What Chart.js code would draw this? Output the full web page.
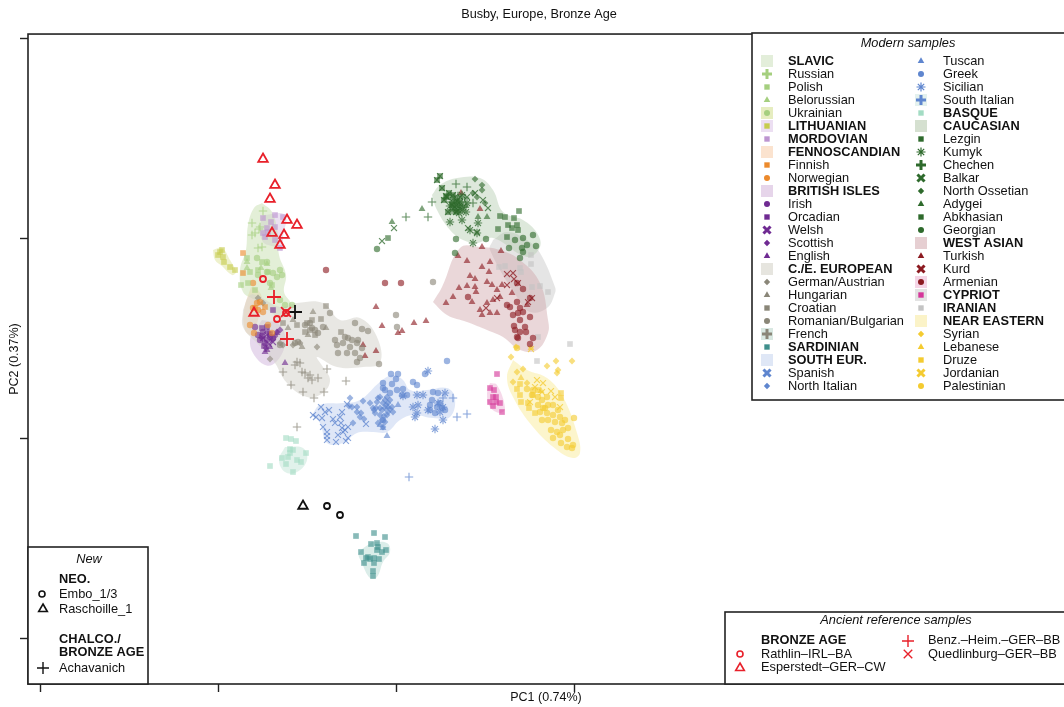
<!DOCTYPE html>
<html>
<head>
<meta charset="utf-8">
<title>Busby, Europe, Bronze Age</title>
<script src="https://cdn.jsdelivr.net/npm/chart.js@4"></script>
<style>
  html, body { margin: 0; padding: 0; background: #fff; overflow: hidden; }
  canvas { display: block; }
</style>
</head>
<body>
<canvas id="grafico" width="1064" height="707"></canvas>
<script>
// Ticks de los ejes (sin etiquetas en el original, unidades relativas)
const xTicks = [-356, -178, 0, 178];
const yTicks = [400, 200, 0, -200];

// Muestras modernas: pares [PC1, PC2]
const russian = [[-133,227],[-144,215],[-136,211],[-137,209],[-144,203],[-141,205],[-138,190],[-134,191]];
const polish = [[-149,180],[-146,166],[-155,153],[-148,155],[-134,176],[-128,166],[-141,148],[-124,153],[-138,168]];
const belorussian = [[-149,170],[-149,176],[-129,174],[-135,170],[-125,150]];
const ukrainian = [[-129,166],[-123,165],[-116,168],[-114,163],[-119,161],[-126,155],[-116,138],[-111,133],[-104,133],[-138,163],[-129,176],[-139,180]];
const lithuanian = [[-174,188],[-178,183],[-173,181],[-172,176],[-166,171],[-161,168],[-176,186]];
const mordovian = [[-121,223],[-113,221],[-133,220],[-125,216],[-129,210],[-121,211],[-131,201],[-121,198],[-116,190],[-128,206],[-133,205]];
const finnish = [[-153,185],[-153,165],[-141,130],[-131,131]];
const norwegian = [[-143,155],[-139,135],[-143,130],[-136,136],[-146,113],[-142,105],[-124,105],[-133,126],[-138,128],[-128,113]];
const irish = [[-133,106],[-126,101],[-136,98],[-131,95],[-123,100],[-138,103],[-141,111],[-129,98],[-134,102]];
const orcadian = [[-123,128],[-134,110],[-129,111],[-126,104],[-132,92]];
const welsh = [[-129,103],[-123,96],[-133,100],[-127,94]];
const scottish = [[-128,106],[-119,106],[-124,98],[-134,100],[-116,108],[-130,90],[-121,102]];
const english = [[-129,88],[-126,91],[-131,86],[-111,75],[-119,105]];
const germanAustrian = [[-126,79],[-79,91],[-113,93],[-103,93],[-96,95],[-116,95],[-133,135],[-138,140]];
const hungarian = [[-83,126],[-103,118],[-94,91],[-108,110],[-70,110],[-88,103]];
const croatian = [[-70,132],[-75,119],[-84,118],[-89,115],[-91,106],[-86,108],[-81,103],[-55,106],[-99,113],[-113,115]];
const romanianBulgarian = [[-66,125],[-41,115],[-34,109],[-28,107],[-61,98],[-59,93],[-51,101],[-48,100],[-44,98],[-38,98],[-53,95],[-46,91],[-39,95],[-34,90],[-49,85],[-41,85],[-36,80],[-39,76],[-17,74],[-58,85],[-81,108],[-78,105],[-101,95],[-98,96],[-116,93],[-84,110],[-91,113],[-86,115],[-73,111],[0,123],[1,111],[37,156]];
const french = [[-69,69],[-50,57],[-99,76],[-101,73],[-96,75],[-113,66],[-94,66],[-91,65],[-86,63],[-88,60],[-78,60],[-105,53],[-93,46],[-72,46],[-82,40],[-84,58],[-99,11]];
const sardinian = [[-40,-98],[-22,-95],[-11,-99],[-25,-106],[-19,-105],[-18,-109],[-10,-112],[-35,-114],[-14,-114],[-30,-120],[-26,-121],[-22,-120],[-17,-121],[-32,-125],[-22,-125],[-23,-133],[-23,-138],[-19,-112],[-28,-119]];
const spanish = [[-75,31],[-83,23],[-80,21],[-74,20],[-71,26],[-67,28],[-63,19],[-54,26],[-56,21],[-61,15],[-49,34],[-73,11],[-69,6],[-69,2],[-69,-2],[-60,-4],[-58,3],[-54,10],[-51,8],[-48,11],[-48,0],[-50,-3],[-30,14],[-53,6],[-55,15]];
const northItalian = [[-46,40],[-33,37],[-44,31],[-39,31],[-39,26],[-35,25],[-36,21],[-43,15],[-32,19],[-47,32],[-16,41],[-19,36],[-26,35],[-23,30],[-13,35],[-8,35],[-16,30],[-11,30],[-4,31],[-21,25],[-16,23],[-9,23],[-14,18],[-11,16],[-18,15],[-13,11],[-9,41],[-6,38],[-11,38],[-8,26],[-3,26],[-20,30],[-14,28],[-10,33],[-6,29],[-12,22],[-18,40],[-22,28]];
const tuscan = [[-9,2],[2,33],[-13,10],[-8,31],[-16,13]];
const greek = [[-5,64],[2,64],[0,59],[-13,55],[-4,54],[-13,50],[17,56],[21,53],[7,49],[1,48],[11,43],[6,43],[37,46],[42,45],[36,38],[34,33],[41,31],[46,30],[39,25],[-6,45],[29,64],[51,77],[-13,18],[-11,48],[34,28],[44,35],[49,28]];
const sicilian = [[32,67],[7,42],[21,43],[27,43],[17,31],[22,33],[19,21],[32,28],[39,9],[42,35],[47,31],[44,26],[49,45],[47,18],[21,25]];
const southItalian = [[57,40],[61,21],[71,24],[13,-39],[47,40]];
const basque = [[-110,0],[-105,-1],[-100,-3],[-106,-11],[-103,-12],[-90,-15],[-114,-20],[-108,-19],[-99,-22],[-95,-24],[-110,-26],[-103,-34],[-126,-28],[-106,-15]];
const lezgin = [[44,262],[41,258],[53,245],[52,226],[51,241],[57,243],[46,250],[60,226],[50,242],[48,238],[56,233],[61,237]];
const kumyk = [[54,216],[66,218],[77,195],[81,205],[74,208],[82,215],[59,231],[64,236],[67,231],[62,228],[57,236],[71,235],[66,243],[60,233],[63,232],[66,228],[56,228],[58,240],[70,226],[54,232],[63,225]];
const chechen = [[60,254],[71,251],[36,236],[10,221],[32,221],[64,233],[61,238],[69,240],[77,235],[59,228],[55,236],[66,236],[62,242]];
const balkar = [[-2,210],[-14,197],[92,230],[87,238],[79,245],[72,210],[81,206],[64,241],[71,241]];
const northOssetian = [[79,259],[86,253],[86,248],[81,241],[89,235],[77,245]];
const adygei = [[26,229],[-4,216],[91,221],[82,221],[70,232]];
const abkhasian = [[-8,200],[104,222],[109,221],[123,227],[118,220],[112,213],[102,209],[111,201],[121,213],[116,210],[122,208]];
const georgian = [[-19,189],[60,199],[90,199],[59,185],[119,198],[127,200],[137,203],[140,192],[131,193],[126,190],[113,190],[124,180],[127,186]];
const turkish = [[50,135],[63,150],[57,141],[71,152],[79,151],[80,146],[76,136],[84,128],[86,123],[91,135],[91,156],[96,153],[101,148],[101,125],[97,138],[104,141],[94,125],[74,162],[79,159],[93,166],[106,153],[116,145],[131,133],[-20,131],[-14,112],[6,107],[2,105],[18,115],[30,117],[86,191],[105,187],[62,182],[71,177],[84,229],[65,245],[94,176],[86,171],[-33,93],[-20,87],[-31,82]];
const kurd = [[111,164],[117,165],[118,159],[122,155],[132,136],[136,140],[111,153],[101,140],[90,130]];
const armenian = [[72,141],[121,155],[127,149],[134,140],[111,133],[114,131],[121,136],[124,130],[117,123],[122,125],[127,126],[134,121],[124,118],[118,112],[119,108],[124,106],[129,111],[130,106],[121,101],[137,100],[134,94],[122,100],[-11,155],[5,155],[-70,168]];
const cypriot = [[101,64],[94,50],[98,48],[97,41],[100,41],[94,36],[100,36],[97,32],[104,35],[106,26]];
const iranian = [[136,151],[144,152],[152,146],[125,166],[142,101],[141,77],[174,94],[103,171],[109,172],[124,170],[135,174],[135,183]];
const syrian = [[115,81],[151,72],[160,77],[176,77],[162,68],[161,65],[121,66],[127,69],[117,56],[131,55],[120,91]];
const lebanese = [[135,90],[145,47],[125,60]];
const druze = [[124,54],[121,49],[124,43],[125,36],[132,35],[133,30],[139,25],[165,45],[165,40],[137,43],[142,48]];
const jordanian = [[141,58],[147,55],[155,47],[159,41],[146,46],[139,51],[134,36],[164,31],[135,89]];
const palestinian = [[131,49],[137,48],[136,43],[142,41],[146,38],[151,41],[142,33],[147,30],[152,33],[157,33],[162,28],[144,26],[151,25],[157,23],[164,21],[146,18],[152,18],[159,16],[166,15],[169,18],[178,20],[172,10],[155,8],[161,6],[167,8],[157,0],[165,-5],[172,-1],[171,-9],[177,-7],[176,-10],[164,3],[149,30],[121,90]];

// Muestras antiguas y nuevas
const rathlin = [[-133,159],[-119,119],[-110,125]];
const esperstedt = [[-133,279],[-121,253],[-126,239],[-109,218],[-99,213],[-124,205],[-112,203],[-116,193],[-142,125]];
const benzHeim = [[-122,141],[-109,99]];
const quedlinburg = [[-110,126]];
const embo = [[-69,-68],[-56,-77]];
const raschoille = [[-93,-68]];
const achavanich = [[-101,126]];

// Contornos de los grupos
const hullSlavic = [[-134,235],[-124,226],[-118,203],[-117,183],[-110,163],[-112,146],[-105,133],[-114,120],[-128,128],[-141,138],[-153,146],[-156,168],[-150,188],[-148,213],[-142,230]];
const hullLithuanian = [[-183,188],[-174,190],[-166,178],[-160,166],[-164,163],[-174,172],[-181,178]];
const hullMordovian = [[-133,223],[-111,223],[-113,201],[-114,188],[-121,191],[-133,196],[-136,211]];
const hullFennoscandian = [[-145,151],[-138,148],[-134,138],[-138,118],[-144,103],[-151,108],[-152,128]];
const hullBritish = [[-134,118],[-116,113],[-111,93],[-124,73],[-138,78],[-146,98]];
const hullCentral = [[-153,128],[-146,143],[-136,141],[-116,131],[-99,135],[-73,135],[-56,118],[-36,120],[-19,101],[-16,75],[-33,71],[-59,71],[-79,81],[-73,71],[-66,58],[-73,45],[-89,41],[-109,55],[-123,78],[-139,95],[-153,111]];
const hullSouth = [[-84,23],[-76,33],[-53,35],[-36,38],[-16,56],[-3,63],[7,58],[14,48],[31,48],[51,50],[59,40],[54,21],[37,20],[17,23],[4,18],[-9,6],[-23,6],[-39,5],[-53,-5],[-69,-5],[-76,15]];
const hullBasque = [[-111,-9],[-93,-10],[-89,-22],[-99,-34],[-111,-34],[-117,-22]];
const hullSardinian = [[-24,-104],[-9,-105],[-6,-114],[-13,-124],[-19,-139],[-26,-140],[-34,-125],[-37,-115]];
const hullCaucasian = [[36,243],[44,253],[61,260],[84,260],[97,248],[107,226],[127,218],[141,205],[144,191],[131,181],[97,200],[81,195],[67,198],[54,208],[41,228]];
const hullWestAsian = [[37,136],[46,151],[64,190],[84,191],[104,188],[124,178],[144,155],[152,118],[152,105],[141,88],[124,88],[107,101],[91,108],[71,116],[51,123]];
const hullIranian = [[97,198],[111,206],[131,198],[144,185],[159,151],[159,145],[151,130],[134,126],[121,141],[94,188]];
const hullNearEastern = [[117,78],[131,68],[151,60],[167,41],[181,5],[184,-15],[177,-20],[161,-12],[137,11],[117,41],[111,61]];
const hullCypriot = [[94,55],[101,53],[109,30],[104,25],[94,31],[91,45]];

// Colores
const cVerde = '#a5cf7f', cLima = '#c6cc4e', cLila = '#bd95d0', cNaranja = '#ec8a2c', cMorado = '#6f2a92';
const cGris = '#8a8678', cTeal = '#3f8f8c', cAzul = '#5f86cf', cMenta = '#a3dcc4', cBosque = '#2e6a2c';
const cGuinda = '#8c1a20', cRosa = '#d5379a', cPlata = '#c4c4c4', cAmarillo = '#f4cb30';

// contorno, color
const contornos = [
    [hullCentral, 'rgba(214,212,204,0.55)'],
    [hullSlavic, 'rgba(200,224,175,0.5)'],
    [hullLithuanian, 'rgba(226,232,170,0.6)'],
    [hullMordovian, 'rgba(222,205,234,0.6)'],
    [hullFennoscandian, 'rgba(248,208,165,0.5)'],
    [hullBritish, 'rgba(212,185,222,0.55)'],
    [hullSouth, 'rgba(196,212,240,0.55)'],
    [hullBasque, 'rgba(200,232,218,0.55)'],
    [hullSardinian, 'rgba(190,222,215,0.55)'],
    [hullCaucasian, 'rgba(180,205,175,0.45)'],
    [hullWestAsian, 'rgba(205,160,165,0.42)'],
    [hullIranian, 'rgba(190,190,190,0.4)'],
    [hullNearEastern, 'rgba(250,238,170,0.6)'],
    [hullCypriot, 'rgba(240,190,220,0.6)']
];

// puntos, estilo, color
const poblaciones = [
    [russian, 'cross', cVerde], [polish, 'rect', cVerde], [belorussian, 'triangle', cVerde], [ukrainian, 'circle', cVerde],
    [lithuanian, 'rect', cLima], [mordovian, 'rect', cLila], [finnish, 'rect', cNaranja], [norwegian, 'circle', cNaranja],
    [germanAustrian, 'rectRot', cGris], [hungarian, 'triangle', cGris], [croatian, 'rect', cGris], [romanianBulgarian, 'circle', cGris], [french, 'cross', cGris],
    [irish, 'circle', cMorado], [orcadian, 'rect', cMorado], [welsh, 'crossRot', cMorado], [scottish, 'rectRot', cMorado], [english, 'triangle', cMorado],
    [sardinian, 'rect', cTeal], [spanish, 'crossRot', cAzul], [northItalian, 'rectRot', cAzul], [tuscan, 'triangle', cAzul],
    [greek, 'circle', cAzul], [sicilian, 'star', cAzul], [southItalian, 'cross', cAzul], [basque, 'rect', cMenta],
    [lezgin, 'rect', cBosque], [lezgin, 'crossRot', cBosque], [kumyk, 'star', cBosque], [chechen, 'cross', cBosque], [balkar, 'crossRot', cBosque],
    [northOssetian, 'rectRot', cBosque], [adygei, 'triangle', cBosque], [abkhasian, 'rect', cBosque], [georgian, 'circle', cBosque],
    [turkish, 'triangle', cGuinda], [kurd, 'crossRot', cGuinda], [armenian, 'circle', cGuinda], [cypriot, 'rect', cRosa], [iranian, 'rect', cPlata],
    [syrian, 'rectRot', cAmarillo], [lebanese, 'triangle', cAmarillo], [druze, 'rect', cAmarillo], [jordanian, 'crossRot', cAmarillo], [palestinian, 'circle', cAmarillo]
];

const rojo = '#e8202a', negro = '#111111';
const antiguas = [
    [rathlin, 'circle', rojo], [esperstedt, 'triangle', rojo], [benzHeim, 'cross', rojo], [quedlinburg, 'crossRot', rojo],
    [embo, 'circle', negro], [raschoille, 'triangle', negro], [achavanich, 'cross', negro]
];

// Texto de las leyendas: etiqueta, negrita, parche, estilo, color
const leyendaIzq = [
    ['SLAVIC', 1, '#e3eeda'], ['Russian', 0, null, 'crossBold', cVerde], ['Polish', 0, null, 'rect', cVerde], ['Belorussian', 0, null, 'triangle', cVerde],
    ['Ukrainian', 0, '#e6edc0', 'circle', cVerde], ['LITHUANIAN', 1, '#ecdff2', 'rect', cLima], ['MORDOVIAN', 1, null, 'rect', cLila],
    ['FENNOSCANDIAN', 1, '#fbe3cf'], ['Finnish', 0, null, 'rect', cNaranja], ['Norwegian', 0, null, 'circle', cNaranja],
    ['BRITISH ISLES', 1, '#e6d5ea'], ['Irish', 0, null, 'circle', cMorado], ['Orcadian', 0, null, 'rect', cMorado], ['Welsh', 0, null, 'crossBold2', cMorado],
    ['Scottish', 0, null, 'rectRot', cMorado], ['English', 0, null, 'triangle', cMorado], ['C./E. EUROPEAN', 1, '#e6e5df'],
    ['German/Austrian', 0, null, 'rectRot', cGris], ['Hungarian', 0, null, 'triangle', cGris], ['Croatian', 0, null, 'rect', cGris],
    ['Romanian/Bulgarian', 0, null, 'circle', cGris], ['French', 0, '#d9e8e2', 'crossBold', cGris], ['SARDINIAN', 1, null, 'rect', cTeal],
    ['SOUTH EUR.', 1, '#dfe7f6'], ['Spanish', 0, null, 'crossBold2', cAzul], ['North Italian', 0, null, 'rectRot', cAzul]
];
const leyendaDer = [
    ['Tuscan', 0, null, 'triangle', cAzul], ['Greek', 0, null, 'circle', cAzul], ['Sicilian', 0, null, 'star', cAzul], ['South Italian', 0, '#e4f1ee', 'crossBold', cAzul],
    ['BASQUE', 1, null, 'rect', cMenta], ['CAUCASIAN', 1, '#d5e0d0'], ['Lezgin', 0, null, 'rect', cBosque], ['Kumyk', 0, null, 'star', cBosque],
    ['Chechen', 0, null, 'crossBold', cBosque], ['Balkar', 0, null, 'crossBold2', cBosque], ['North Ossetian', 0, null, 'rectRot', cBosque],
    ['Adygei', 0, null, 'triangle', cBosque], ['Abkhasian', 0, null, 'rect', cBosque], ['Georgian', 0, null, 'circle', cBosque], ['WEST ASIAN', 1, '#e6cfd2'],
    ['Turkish', 0, null, 'triangle', cGuinda], ['Kurd', 0, null, 'crossBold2', cGuinda], ['Armenian', 0, '#f5d5e6', 'circle', cGuinda],
    ['CYPRIOT', 1, '#e3e3e3', 'rect', cRosa], ['IRANIAN', 1, null, 'rect', cPlata], ['NEAR EASTERN', 1, '#fbf3c8'], ['Syrian', 0, null, 'rectRot', cAmarillo],
    ['Lebanese', 0, null, 'triangle', cAmarillo], ['Druze', 0, null, 'rect', cAmarillo], ['Jordanian', 0, null, 'crossBold2', cAmarillo], ['Palestinian', 0, null, 'circle', cAmarillo]
];

const fuente = '"Liberation Sans", Arial, sans-serif';

function marcador(ctx, estilo, color, x, y) {
    let tipo = estilo, ancho = 0, radio = 3.8;
    if (estilo === 'crossBold') { tipo = 'cross'; ancho = 3; radio = 5; }
    if (estilo === 'crossBold2') { tipo = 'crossRot'; ancho = 3; radio = 5; }
    if (estilo === 'star') { ancho = 1.2; radio = 4.5; }
    if (estilo === 'rectRot') { radio = 3.2; }
    if (estilo === 'circle') { radio = 3; }
    ctx.fillStyle = color;
    ctx.strokeStyle = color;
    ctx.lineWidth = ancho;
    Chart.helpers.drawPoint(ctx, { pointStyle: tipo, radius: radio, borderWidth: ancho, rotation: 0 }, x, y);
}

function marcadorHueco(ctx, estilo, color, x, y, radio, ancho) {
    ctx.fillStyle = 'rgba(0,0,0,0)';
    ctx.strokeStyle = color;
    ctx.lineWidth = ancho;
    Chart.helpers.drawPoint(ctx, { pointStyle: estilo, radius: radio, borderWidth: ancho, rotation: 0 }, x, y);
}

function texto(ctx, cadena, x, y, estilo, align) {
    ctx.font = estilo + ' 12.8px ' + fuente;
    ctx.fillStyle = '#111';
    ctx.textAlign = align || 'left';
    ctx.textBaseline = 'middle';
    ctx.fillText(cadena, x, y);
}

function caja(ctx, x, y, w, h) {
    ctx.fillStyle = '#fff';
    ctx.fillRect(x, y, w, h);
    ctx.strokeStyle = '#222';
    ctx.lineWidth = 1.6;
    ctx.strokeRect(x, y, w, h);
}

function columna(ctx, filas, xMarca, xTexto, y0, paso) {
    filas.forEach((fila, i) => {
        const y = y0 + i * paso;
        if (fila[2]) {
            ctx.fillStyle = fila[2];
            ctx.fillRect(xMarca - 6, y - 6, 12, 12);
        }
        if (fila[3]) marcador(ctx, fila[3], fila[4], xMarca, y);
        texto(ctx, fila[0], xTexto, y, fila[1] ? 'bold' : 'normal');
    });
}

// Marco y leyendas dibujados encima de los puntos
const pluginLeyendas = {
    id: 'leyendas',
    afterLayout(chart) {
        // el título va algo a la izquierda del centro del área
        chart.titleBlock.right = 1078;
    },
    afterDraw(chart) {
        const ctx = chart.ctx;
        const a = chart.chartArea;
        ctx.save();
        ctx.strokeStyle = '#222';
        ctx.lineWidth = 1.6;
        ctx.strokeRect(a.left, a.top, a.right - a.left + 40, a.bottom - a.top);

        // Modern samples
        caja(ctx, 752, 33, 330, 367);
        texto(ctx, 'Modern samples', 908, 43, 'italic', 'center');
        columna(ctx, leyendaIzq, 767, 788, 61, 13);
        columna(ctx, leyendaDer, 921, 943, 61, 13);

        // New
        caja(ctx, 28, 547, 120, 137);
        texto(ctx, 'New', 89, 559, 'italic', 'center');
        texto(ctx, 'NEO.', 59, 579, 'bold');
        marcadorHueco(ctx, 'circle', negro, 42, 594, 3, 1.6);
        texto(ctx, 'Embo_1/3', 59, 594, 'normal');
        marcadorHueco(ctx, 'triangle', negro, 43, 609, 5, 1.6);
        texto(ctx, 'Raschoille_1', 59, 609, 'normal');
        texto(ctx, 'CHALCO./', 59, 639, 'bold');
        texto(ctx, 'BRONZE AGE', 59, 652, 'bold');
        marcadorHueco(ctx, 'cross', negro, 43, 668, 6, 1.4);
        texto(ctx, 'Achavanich', 59, 668, 'normal');

        // Ancient reference samples
        caja(ctx, 725, 612, 350, 72);
        texto(ctx, 'Ancient reference samples', 896, 620, 'italic', 'center');
        texto(ctx, 'BRONZE AGE', 761, 640, 'bold');
        marcadorHueco(ctx, 'circle', rojo, 740, 654, 3, 1.6);
        texto(ctx, 'Rathlin–IRL–BA', 761, 654, 'normal');
        marcadorHueco(ctx, 'triangle', rojo, 740, 668, 5, 1.6);
        texto(ctx, 'Esperstedt–GER–CW', 761, 667, 'normal');
        marcadorHueco(ctx, 'cross', rojo, 908, 641, 6, 1.4);
        texto(ctx, 'Benz.–Heim.–GER–BB', 928, 640, 'normal');
        marcadorHueco(ctx, 'crossRot', rojo, 908, 654, 6, 1.4);
        texto(ctx, 'Quedlinburg–GER–BB', 928, 654, 'normal');
        ctx.restore();
    }
};

function aPuntos(lista) {
    return lista.map(p => ({ x: p[0], y: p[1] }));
}

function conTransparencia(hex, alfa) {
    const n = parseInt(hex.slice(1), 16);
    return 'rgba(' + (n >> 16) + ',' + ((n >> 8) & 255) + ',' + (n & 255) + ',' + alfa + ')';
}

function radioPunto(estilo) {
    if (estilo === 'rect') return 4;
    if (estilo === 'circle') return 3.2;
    if (estilo === 'triangle') return 4;
    if (estilo === 'rectRot') return 3.4;
    return 4.2;
}

const datasets = [];

contornos.forEach(c => {
    const puntos = aPuntos(c[0]);
    puntos.push(puntos[0]);
    datasets.push({
        data: puntos,
        showLine: true,
        fill: 'shape',
        tension: 0.4,
        backgroundColor: c[1],
        borderWidth: 0,
        pointRadius: 0,
        order: 100
    });
});

poblaciones.forEach(p => {
    const hueco = ['cross', 'crossRot', 'star'].includes(p[1]);
    datasets.push({
        data: aPuntos(p[0]),
        pointStyle: p[1],
        pointRadius: radioPunto(p[1]),
        pointBackgroundColor: conTransparencia(p[2], 0.62),
        pointBorderColor: conTransparencia(p[2], 0.75),
        pointBorderWidth: hueco ? 1.1 : 0,
        order: 50
    });
});

antiguas.forEach(p => {
    const esCruz = p[1] === 'cross' || p[1] === 'crossRot';
    datasets.push({
        data: aPuntos(p[0]),
        pointStyle: p[1],
        pointRadius: esCruz ? 7 : (p[1] === 'triangle' ? 5.5 : 3),
        pointBackgroundColor: 'rgba(0,0,0,0)',
        pointBorderColor: p[2],
        pointBorderWidth: 1.8,
        order: 1
    });
});

new Chart(document.getElementById('grafico').getContext('2d'), {
    type: 'scatter',
    data: { datasets: datasets },
    plugins: [pluginLeyendas],
    options: {
        responsive: false,
        animation: false,
        events: [],
        layout: { padding: 0, autoPadding: false },
        plugins: {
            legend: { display: false },
            tooltip: { enabled: false },
            title: {
                display: true,
                text: 'Busby, Europe, Bronze Age',
                color: '#111',
                font: { family: fuente, size: 12.7, weight: 'normal' },
                padding: { top: 7, bottom: 11.8 }
            }
        },
        scales: {
            x: {
                type: 'linear',
                min: -368,
                max: 668,
                border: { display: false },
                grid: { drawOnChartArea: false, drawTicks: true, tickLength: 8, tickColor: '#222', tickWidth: 1.4 },
                ticks: { display: false },
                title: { display: true, text: 'PC1 (0.74%)', color: '#111', font: { family: fuente, size: 12.5 }, padding: { top: 0, bottom: 2 } },
                afterBuildTicks: scale => { scale.ticks = xTicks.map(v => ({ value: v })); },
                afterFit: scale => { scale.height = 23; scale.paddingLeft = 0; scale.paddingRight = 0; }
            },
            y: {
                type: 'linear',
                min: -246,
                max: 404,
                border: { display: false },
                grid: { drawOnChartArea: false, drawTicks: true, tickLength: 8, tickColor: '#222', tickWidth: 1.4 },
                ticks: { display: false },
                title: { display: true, text: 'PC2 (0.37%)', color: '#111', font: { family: fuente, size: 12.5 }, padding: { top: 7, bottom: 0 } },
                afterBuildTicks: scale => { scale.ticks = yTicks.map(v => ({ value: v })); },
                afterFit: scale => { scale.width = 28; scale.paddingTop = 0; scale.paddingBottom = 0; }
            }
        }
    }
});
</script>
</body>
</html>
